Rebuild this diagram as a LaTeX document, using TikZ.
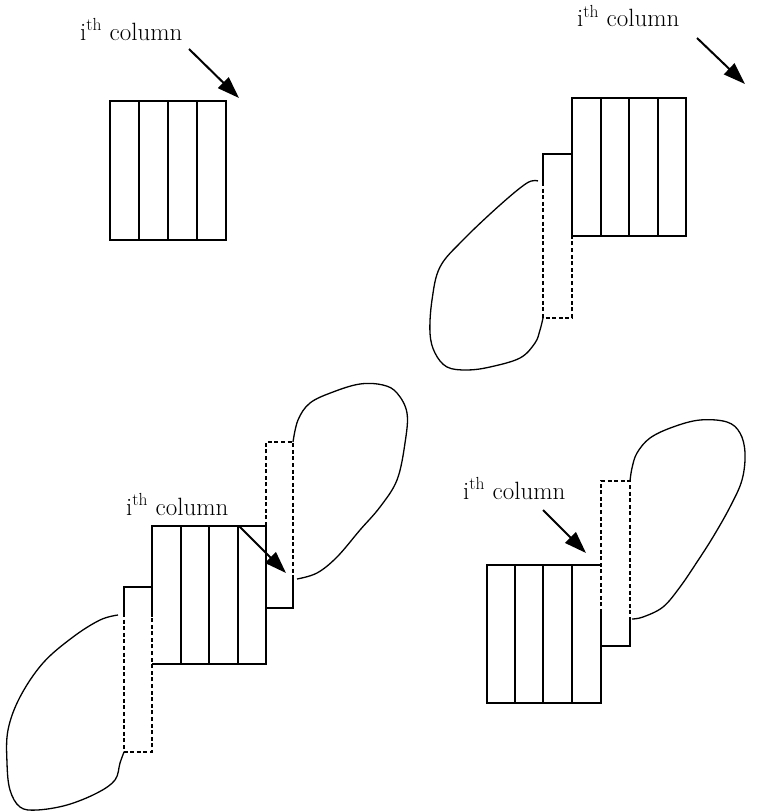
\documentclass[tikz,border=0pt]{standalone}
\usepackage{fontspec}
\setmainfont{Latin Modern Roman}
\usetikzlibrary{arrows.meta}
\begin{document}
\begin{tikzpicture}[x=1pt,y=-1pt,
  box/.style={line width=1.4pt, line join=miter},
  dashbox/.style={line width=1.4pt, dash pattern=on 4pt off 2.6pt},
  blob/.style={line width=1.3pt, smooth, tension=0.6},
  pointer/.style={line width=2pt, -{Triangle[length=22pt,width=15pt]}},
  lbl/.style={anchor=base west, inner sep=0pt, font=\fontsize{25}{29}\selectfont}]
\useasboundingbox (0,0) rectangle (759,811);

% ---------- Panel 1 (top left)
\draw[box] (110,101) rectangle (226,240);
\foreach \x in {139,168,197} \draw[box] (\x,101) -- (\x,240);
\node[lbl] (lab1) at (80,40) {i\textsuperscript{th} column};
\coordinate (a1s) at (189,49);
\coordinate (a1e) at (239,98);
\draw[pointer] (a1s) -- (a1e);

% ---------- Panel 2 (top right)
\draw[box] (572,98) rectangle (686,236);
\foreach \x in {601,629,658} \draw[box] (\x,98) -- (\x,236);
\draw[box] (543,182) -- (543,154) -- (572,154);
\draw[dashbox] (543,182) -- (543,318) -- (572,318) -- (572,236);
\draw[blob] plot coordinates {(538,181) (527,183) (500,205) (463,240) (440,267) (432,300) (430,333) (435,353) (447,367) (467,370) (490,367) (520,358) (535,343) (540,330) (543,318)};
\node[lbl] (lab2) at (577,27) {i\textsuperscript{th} column};
\coordinate (a2s) at (697,38);
\coordinate (a2e) at (745,84);
\draw[pointer] (a2s) -- (a2e);

% ---------- Panel 3 (bottom left)
\draw[box] (152,617) -- (152,526) -- (266,526) -- (266,664) -- (152,664);
\foreach \x in {181,209,238} \draw[box] (\x,526) -- (\x,664);
\draw[box] (124,613) -- (124,587) -- (152,587);
\draw[dashbox] (124,613) -- (124,752) -- (152,752) -- (152,617);
\draw[dashbox] (266,526) -- (266,442) -- (293,442) -- (293,577);
\draw[box] (293,577) -- (293,608) -- (266,608);
\draw[blob] plot coordinates {(118,615) (100,620) (73,637) (43,663) (20,697) (8,730) (7,763) (10,790) (20,807) (37,810) (67,805) (97,793) (115,780) (120,763) (124,752)};
\draw[blob] plot coordinates {(297,579) (317,573) (337,557) (360,530) (380,507) (397,480) (405,443) (407,413) (397,393) (383,385) (360,384) (333,392) (310,403) (298,420) (293,442)};
\node[lbl] (lab3) at (126,515) {i\textsuperscript{th} column};
\coordinate (a3s) at (239,526);
\coordinate (a3e) at (286,573);
\draw[pointer] (a3s) -- (a3e);

% ---------- Panel 4 (bottom right)
\draw[box] (601,613) -- (601,703) -- (487,703) -- (487,565) -- (601,565);
\foreach \x in {515,543,572} \draw[box] (\x,565) -- (\x,703);
\draw[dashbox] (601,613) -- (601,481) -- (630,481) -- (630,617);
\draw[box] (630,617) -- (630,646) -- (601,646);
\draw[blob] plot coordinates {(632,619) (643,617) (663,607) (680,587) (697,562) (713,537) (730,507) (742,480) (745,453) (740,433) (727,422) (700,420) (673,427) (650,438) (637,453) (632,468) (630,481)};
\node[lbl] (lab4) at (463,499) {i\textsuperscript{th} column};
\coordinate (a4s) at (543,510);
\coordinate (a4e) at (586,553);
\draw[pointer] (a4s) -- (a4e);
\end{tikzpicture}
\end{document}
